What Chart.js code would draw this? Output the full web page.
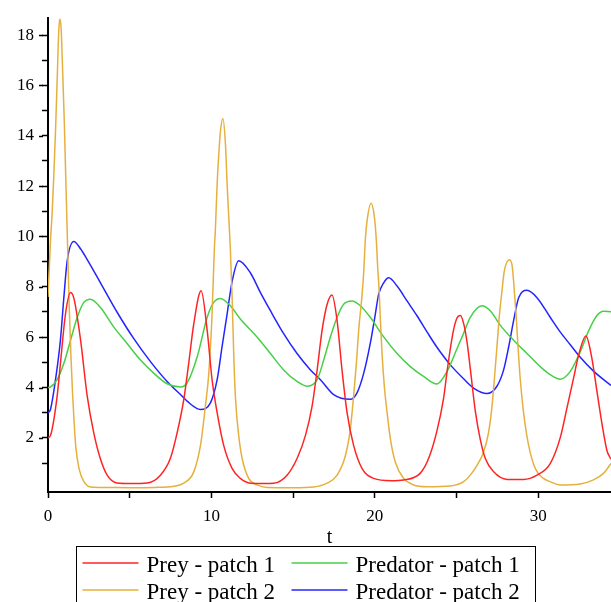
<!DOCTYPE html>
<html>
<head>
<meta charset="utf-8">
<script src="https://cdn.jsdelivr.net/npm/chart.js@4/dist/chart.umd.min.js"></script>
<style>
  html, body { margin: 0; padding: 0; background: #fff; }
  canvas { display: block; }
</style>
</head>
<body>
<canvas id="c" width="611" height="602"></canvas>
<script>
// Two-patch predator–prey simulation: population against time t

const tPrey1 = [0, 0.15, 0.56, 0.76, 1.07, 1.38, 1.6, 1.99, 2.4, 2.8, 3.2, 3.62, 4.23, 5.0, 6.07, 6.88, 7.49, 7.9, 8.31, 8.61, 8.92, 9.37, 9.74, 10.04, 10.35, 10.75, 11.27, 11.77, 12.39, 13.2, 13.8, 14.63, 15.24, 15.75, 16.16, 16.47, 16.77, 17.08, 17.38, 17.69, 17.99, 18.3, 18.7, 19.22, 19.93, 21.0, 21.76, 22.77, 23.3, 23.8, 24.21, 24.42, 24.62, 24.82, 25.02, 25.23, 25.45, 25.64, 25.84, 26.15, 26.45, 26.76, 27.27, 28.09, 29.1, 29.92, 30.73, 31.35, 31.76, 32.16, 32.47, 32.92, 33.28, 33.59, 33.9, 34.2, 34.45];
const prey1 = [2.0, 2.09, 3.66, 4.96, 6.92, 7.77, 7.5, 5.9, 3.66, 2.2, 1.18, 0.52, 0.21, 0.19, 0.21, 0.52, 1.19, 2.2, 3.53, 4.96, 6.53, 7.84, 6.27, 4.31, 3.0, 1.7, 0.78, 0.39, 0.2, 0.19, 0.2, 0.52, 1.18, 2.09, 3.26, 4.7, 6.27, 7.31, 7.68, 6.66, 4.7, 3.0, 1.7, 0.78, 0.39, 0.3, 0.33, 0.59, 1.2, 2.28, 3.59, 4.64, 5.55, 6.3, 6.75, 6.86, 6.5, 5.81, 4.75, 3.05, 1.94, 1.18, 0.65, 0.35, 0.35, 0.52, 0.98, 2.02, 3.2, 4.37, 5.29, 6.05, 5.16, 3.85, 2.55, 1.5, 1.15];

const tPrey2 = [0, 0.15, 0.26, 0.36, 0.46, 0.56, 0.66, 0.72, 0.8, 0.9, 1.0, 1.1, 1.2, 1.3, 1.4, 1.5, 1.6, 1.7, 1.9, 2.2, 2.6, 3.5, 5.0, 6.5, 7.7, 8.31, 8.92, 9.33, 9.63, 9.84, 10.04, 10.18, 10.24, 10.35, 10.45, 10.55, 10.7, 10.86, 10.96, 11.06, 11.16, 11.27, 11.37, 11.47, 11.67, 11.88, 12.28, 12.79, 13.41, 15.0, 16.26, 17.08, 17.69, 18.2, 18.5, 18.7, 18.87, 19.01, 19.22, 19.32, 19.42, 19.52, 19.77, 19.97, 20.09, 20.17, 20.26, 20.34, 20.44, 20.58, 20.75, 20.95, 21.25, 21.76, 22.37, 23.19, 24.62, 25.43, 25.84, 26.25, 26.65, 26.96, 27.17, 27.31, 27.47, 27.63, 27.78, 27.92, 28.23, 28.39, 28.49, 28.64, 28.76, 28.9, 29.1, 29.41, 29.82, 30.32, 30.73, 31.35, 32.57, 33.38, 33.99, 34.45];
const prey2 = [7.6, 9.8, 11.0, 12.5, 14.2, 16.2, 18.2, 18.64, 18.3, 16.5, 14.5, 12.0, 9.6, 7.2, 5.3, 3.8, 2.6, 1.65, 0.78, 0.26, 0.05, 0.03, 0.02, 0.03, 0.08, 0.2, 0.65, 1.7, 3.26, 4.57, 6.92, 9.53, 10.25, 12.08, 13.26, 14.17, 14.69, 13.65, 12.08, 10.78, 9.47, 7.5, 5.2, 3.6, 2.09, 1.18, 0.39, 0.13, 0.03, 0.02, 0.05, 0.2, 0.52, 1.3, 2.35, 3.66, 4.96, 6.27, 7.7, 8.6, 9.9, 10.6, 11.32, 10.78, 9.86, 8.82, 7.9, 6.66, 5.35, 4.05, 3.0, 1.96, 1.04, 0.39, 0.13, 0.06, 0.09, 0.26, 0.52, 0.91, 1.43, 2.22, 3.26, 4.31, 5.62, 6.92, 7.84, 8.62, 9.08, 8.88, 8.23, 6.92, 5.62, 4.31, 3.0, 1.7, 0.78, 0.39, 0.26, 0.13, 0.17, 0.33, 0.59, 0.98];

const tPred1 = [0, 0.15, 0.56, 0.97, 1.38, 1.79, 2.19, 2.6, 3.21, 4.03, 4.84, 5.66, 6.47, 7.29, 8.1, 8.51, 9.13, 9.74, 10.14, 10.55, 11.16, 11.77, 12.79, 13.61, 14.42, 15.24, 15.88, 16.47, 16.87, 17.28, 17.69, 18.09, 18.6, 19.11, 19.72, 20.54, 21.36, 22.17, 22.98, 23.8, 24.42, 25.03, 25.43, 25.84, 26.56, 27.06, 27.68, 28.49, 29.31, 30.12, 30.73, 31.35, 31.96, 32.57, 33.08, 33.59, 33.99, 34.45];
const pred1 = [4.0, 4.02, 4.31, 4.96, 5.88, 6.79, 7.38, 7.51, 7.18, 6.4, 5.75, 5.09, 4.57, 4.15, 4.02, 4.18, 5.22, 6.79, 7.38, 7.54, 7.25, 6.72, 6.01, 5.35, 4.7, 4.24, 4.05, 4.31, 5.09, 6.01, 6.79, 7.31, 7.44, 7.25, 6.79, 6.01, 5.35, 4.83, 4.44, 4.14, 4.64, 5.55, 6.15, 6.79, 7.25, 7.05, 6.47, 5.88, 5.35, 4.83, 4.51, 4.33, 4.64, 5.42, 6.25, 6.86, 7.03, 7.01];

const tPred2 = [0, 0.15, 0.46, 0.76, 0.97, 1.17, 1.58, 2.0, 2.4, 3.21, 4.23, 5.25, 6.27, 7.29, 8.31, 8.51, 9.33, 9.94, 10.35, 10.65, 10.96, 11.27, 11.67, 12.39, 13.0, 13.61, 14.42, 15.24, 16.06, 16.67, 17.48, 18.5, 18.91, 19.32, 19.72, 20.03, 20.23, 20.54, 20.85, 21.36, 21.97, 22.58, 23.2, 23.8, 24.62, 25.43, 26.04, 26.86, 27.47, 27.88, 28.19, 28.49, 28.8, 29.31, 29.92, 30.73, 31.35, 31.96, 32.57, 33.38, 34.45];
const pred2 = [3.0, 3.13, 4.31, 5.88, 7.57, 9.01, 9.8, 9.5, 9.08, 8.16, 6.99, 5.94, 5.03, 4.24, 3.59, 3.46, 3.13, 3.39, 4.31, 5.62, 6.92, 8.23, 9.04, 8.55, 7.77, 7.05, 6.14, 5.35, 4.7, 4.31, 3.72, 3.53, 3.79, 4.57, 5.75, 6.92, 7.7, 8.16, 8.36, 8.03, 7.44, 6.85, 6.2, 5.6, 4.9, 4.35, 3.98, 3.76, 4.05, 4.7, 5.62, 6.66, 7.57, 7.86, 7.57, 6.79, 6.2, 5.7, 5.2, 4.65, 4.08];

const seriesLabels = ['Prey - patch 1', 'Prey - patch 2', 'Predator - patch 1', 'Predator - patch 2'];
const seriesColors = ['#ff2424', '#e6b03e', '#46d046', '#2424ff'];

const serif = '"Liberation Serif", "Times New Roman", serif';

function points(ts, vs) {
  return ts.map((t, i) => ({ x: t, y: vs[i] }));
}

// Even-valued y ticks get a longer mark than the odd (minor) ones
const majorYTicks = {
  id: 'majorYTicks',
  afterDraw(chart) {
    const y = chart.scales.y;
    const ctx = chart.ctx;
    ctx.save();
    ctx.strokeStyle = '#000';
    ctx.lineWidth = 1.5;
    y.ticks.forEach(t => {
      if (t.value % 2 !== 0) return;
      const py = Math.round(y.getPixelForValue(t.value)) + 0.5;
      ctx.beginPath();
      ctx.moveTo(y.right - 9, py);
      ctx.lineTo(y.right - 5, py);
      ctx.stroke();
    });
    ctx.restore();
  }
};

// Boxed legend below the axis: prey in the left column, predators in the right
const boxedLegend = {
  id: 'boxedLegend',
  afterDraw(chart) {
    const ctx = chart.ctx;
    const ds = chart.data.datasets;
    const colX = [82.5, 291.5];
    const lineY = [563, 590];
    const baseY = [571.5, 598.5];
    ctx.save();
    ctx.strokeStyle = '#000';
    ctx.lineWidth = 1;
    ctx.strokeRect(76.5, 546.5, 459, 70);
    ctx.font = '23px ' + serif;
    ctx.textBaseline = 'alphabetic';
    ctx.textAlign = 'left';
    ds.forEach((d, i) => {
      const col = i < 2 ? 0 : 1;
      const row = i % 2;
      ctx.strokeStyle = d.borderColor;
      ctx.lineWidth = 1.5;
      ctx.beginPath();
      ctx.moveTo(colX[col], lineY[row]);
      ctx.lineTo(colX[col] + 56, lineY[row]);
      ctx.stroke();
      ctx.fillStyle = '#000';
      ctx.fillText(d.label, colX[col] + 64, baseY[row]);
    });
    ctx.restore();
  }
};

const tickFont = { family: serif, size: 17 };

new Chart(document.getElementById('c'), {
  type: 'line',
  data: {
    datasets: [
      { label: seriesLabels[0], data: points(tPrey1, prey1), borderColor: seriesColors[0] },
      { label: seriesLabels[1], data: points(tPrey2, prey2), borderColor: seriesColors[1] },
      { label: seriesLabels[2], data: points(tPred1, pred1), borderColor: seriesColors[2] },
      { label: seriesLabels[3], data: points(tPred2, pred2), borderColor: seriesColors[3] }
    ]
  },
  options: {
    responsive: false,
    animation: false,
    layout: { padding: { top: 12, right: 0, bottom: 0, left: 0 } },
    elements: {
      point: { radius: 0 },
      line: { borderWidth: 1.5, cubicInterpolationMode: 'monotone', fill: false }
    },
    plugins: {
      legend: { display: false },
      tooltip: { enabled: false }
    },
    scales: {
      x: {
        type: 'linear',
        min: 0,
        max: 34.45,
        ticks: {
          stepSize: 5,
          maxTicksLimit: 40,
          autoSkip: false,
          maxRotation: 0,
          includeBounds: false,
          padding: 8,
          color: '#000',
          font: tickFont,
          callback: v => (v % 10 === 0 ? String(v) : '')
        },
        grid: { drawOnChartArea: false, drawTicks: true, tickLength: 6, tickColor: '#000', tickWidth: 1.5 },
        border: { color: '#000', width: 2 },
        title: {
          display: true,
          text: 't',
          color: '#000',
          font: { family: serif, size: 20 },
          padding: { top: 0, bottom: 52.5 }
        },
        afterFit: s => { s.height = 110; }
      },
      y: {
        type: 'linear',
        min: -0.15,
        max: 18.67,
        ticks: {
          stepSize: 1,
          maxTicksLimit: 40,
          autoSkip: false,
          includeBounds: false,
          padding: 8,
          color: '#000',
          font: tickFont,
          callback: v => (v % 2 === 0 ? String(v) : '')
        },
        afterBuildTicks: s => {
          s.ticks = s.ticks.filter(t => t.value >= 1 && Number.isInteger(t.value));
        },
        grid: { drawOnChartArea: false, drawTicks: true, tickLength: 6, tickColor: '#000', tickWidth: 1.5 },
        border: { color: '#000', width: 2 },
        afterFit: s => { s.width = 48; }
      }
    }
  },
  plugins: [majorYTicks, boxedLegend]
});
</script>
</body>
</html>
